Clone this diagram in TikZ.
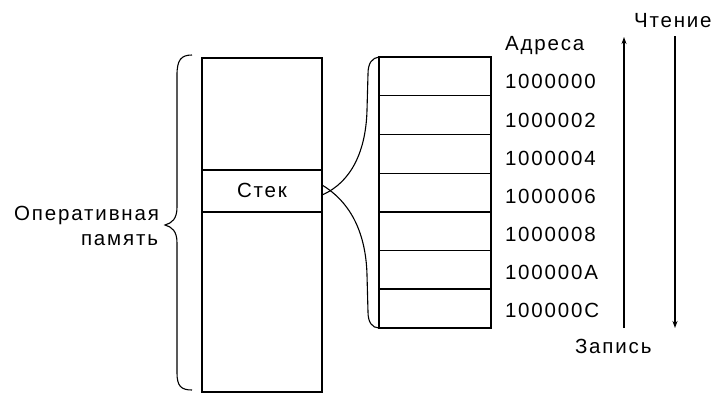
\documentclass[tikz,border=0pt]{standalone}
\usepackage{fontspec}
\setmainfont{Liberation Sans}[LetterSpace=9]
\usetikzlibrary{arrows.meta}
\begin{document}
\begin{tikzpicture}[x=1pt,y=-1pt,
  every node/.style={outer sep=0pt},
  lbl/.style={font=\fontsize{20.5}{23}\selectfont, inner sep=0pt},
  cell/.style={draw, line width=1.2pt, minimum width=112pt, minimum height=38.71pt, anchor=north west, inner sep=0pt},
  thin/.style={line width=1.1pt},
  bold/.style={line width=2.6pt},
  arr/.style={line width=1.2pt, -{Stealth[length=7pt,width=5pt]}}]
\useasboundingbox (0,0) rectangle (714,394);

% main memory column with the stack region
\node[draw, line width=1.6pt, minimum width=120pt, minimum height=334pt, anchor=north west, inner sep=0pt] (mem) at (202,58) {};
\draw[bold] (mem.north west) -- (mem.south west);
\node[draw, thin, minimum width=120pt, minimum height=42pt, anchor=north west, inner sep=0pt, lbl] (stk) at (202,170) {\raisebox{2pt}{Стек}};
\draw[line width=1.6pt] (mem.north east) -- (mem.south east);

% brace for the whole memory
\draw[line width=1.1pt]
  (192,55) .. controls (181,55) and (177,60) .. (177,75) -- (177,207)
  .. controls (177,219) and (172,223) .. (165,225)
  .. controls (172,227) and (177,231) .. (177,243) -- (177,373)
  .. controls (177,386) and (181,390) .. (192,390);
\node[lbl, anchor=base east] (op) at (159,220) {Оперативная};
\node[lbl, anchor=base east] (pm) at (158,245) {память};

% stack cells
\node[cell] (c1) at (379,57) {};
\node[cell] (c2) at (c1.south west) {};
\node[cell] (c3) at (c2.south west) {};
\node[cell] (c4) at (c3.south west) {};
\node[cell] (c5) at (c4.south west) {};
\node[cell] (c6) at (c5.south west) {};
\node[cell] (c7) at (c6.south west) {};
\draw[line width=2.4pt] (c5.north west) -- (c5.north east);
\draw[line width=2.4pt] (c7.north west) -- (c7.north east);

% expansion of the stack region into cells
\coordinate (su) at ([yshift=-4pt]stk.east);
\coordinate (sd) at ([yshift=6pt]stk.east);
\draw[line width=1.1pt] (su) .. controls (352,182) and (366,150) .. (367,110)
  -- (368,74) .. controls (368,63) and (372,58) .. (c1.north west);
\draw[line width=1.1pt] (sd) .. controls (352,203) and (366,235) .. (367,275)
  -- (368,312) .. controls (368,322) and (372,328) .. (c7.south west);

% addresses
\node[lbl, anchor=base west] (adr) at (505,50) {Адреса};
\node[lbl, anchor=base west] (a0) at (505,88) {1000000};
\node[lbl, anchor=base west] (a2) at (505,127) {1000002};
\node[lbl, anchor=base west] (a4) at (505,165) {1000004};
\node[lbl, anchor=base west] (a6) at (505,203) {1000006};
\node[lbl, anchor=base west] (a8) at (505,241) {1000008};
\node[lbl, anchor=base west] (aA) at (505,279) {100000A};
\node[lbl, anchor=base west] (aC) at (505,317) {100000C};

% direction arrows
\coordinate (ub) at (624,328);
\coordinate (ut) at (624,37);
\coordinate (dt) at (675,36);
\coordinate (db) at (675,328);
\draw[arr] (ub) -- (ut);
\draw[arr] (dt) -- (db);
\node[lbl, anchor=base west] (rd) at (634,27) {Чтение};
\node[lbl, anchor=base west] (wr) at (575,353) {Запись};
\end{tikzpicture}
\end{document}
